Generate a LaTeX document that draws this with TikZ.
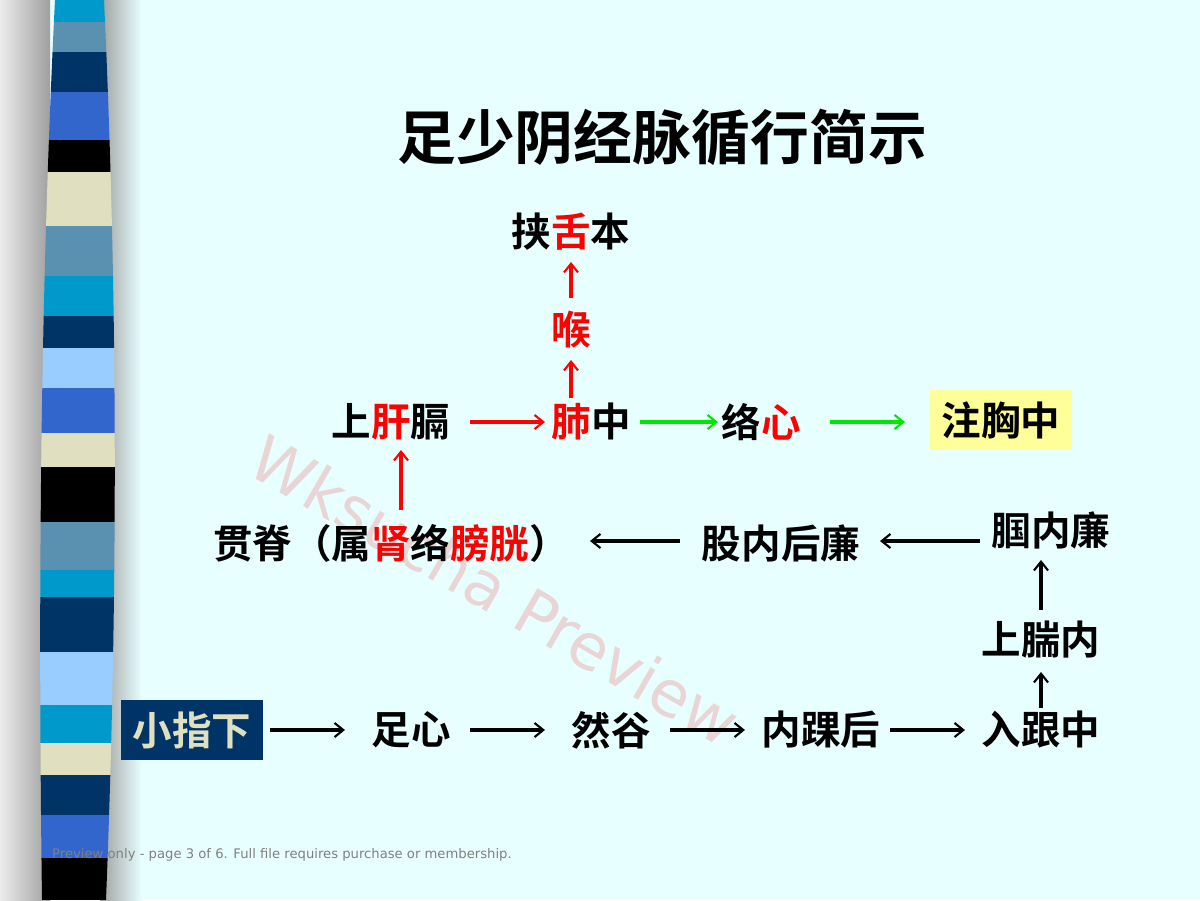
\documentclass[tikz,border=0pt]{standalone}
\usepackage{fontspec}
\setmainfont{Noto Sans CJK SC}[BoldFont={Noto Sans CJK SC Bold}]
\newfontfamily\wmfont{DejaVu Sans}
\usetikzlibrary{arrows.meta}
\definecolor{bg}{RGB}{232,255,255}
\definecolor{cA}{RGB}{0,153,204}
\definecolor{cB}{RGB}{90,144,176}
\definecolor{cC}{RGB}{0,51,102}
\definecolor{cD}{RGB}{51,102,204}
\definecolor{cE}{RGB}{224,224,192}
\definecolor{cF}{RGB}{153,204,255}
\definecolor{rd}{RGB}{255,0,0}
\definecolor{gr}{RGB}{0,230,0}
\definecolor{wmc}{RGB}{235,150,150}
\definecolor{yl}{RGB}{255,255,153}
\begin{document}
\begin{tikzpicture}[x=0.02cm,y=-0.02cm,
  lbl/.style={font=\fontsize{22.5}{22.5}\selectfont\bfseries,inner sep=1pt},
  arr/.style={line width=2.4pt,-{Straight Barb[length=5pt,width=8pt,line width=1.2pt]}},
  rarr/.style={arr,draw=rd,line width=2.8pt},
  garr/.style={arr,draw=gr},
  barr/.style={arr,draw=black}]
\useasboundingbox (0,0) rectangle (1200,900);
\fill[bg] (0,0) rectangle (1200,900);
\shade[left color=gray!15,right color=gray!75] (0,0) rectangle (50,900);
\shade[left color=gray!75,right color=bg] (100,0) rectangle (142,900);
\begin{scope}
\clip (55,0) .. controls (40,300) and (38,600) .. (42,900) -- (106,900) .. controls (118,600) and (118,300) .. (104,0) -- cycle;
\foreach \a/\b/\c in {0/22/cA,22/52/cB,52/92/cC,92/140/cD,140/172/black,172/226/cE,226/276/cB,276/316/cA,316/348/cC,348/388/cF,388/433/cD,433/467/cE,467/522/black,522/570/cB,570/597/cA,597/652/cC,652/705/cF,705/743/cA,743/775/cE,775/815/cC,815/858/cD,858/900/black}
  \fill[\c] (30,\a) rectangle (130,\b);
\end{scope}
\node[font=\wmfont\fontsize{36}{36}\selectfont,text=wmc,opacity=0.4,rotate=-30] (wmk) at (495,590) {Wksucha Preview};
\node[font=\fontsize{33.5}{33.5}\selectfont\bfseries] (title) at (662,137) {足少阴经脉循行简示};
\node[lbl] (she) at (571,232) {挟\textcolor{rd}{舌}本};
\node[lbl,text=rd] (hou) at (571,330) {喉};
\node[lbl] (gan) at (391,422) {上\textcolor{rd}{肝}膈};
\node[lbl] (fei) at (591,422) {\textcolor{rd}{肺}中};
\node[lbl] (xin) at (761,422) {络\textcolor{rd}{心}};
\node[lbl,fill=yl,minimum width=2.86cm,minimum height=1.2cm] (xiong) at (1001,420) {注胸中};
\node[lbl] (ji) at (391,543) {贯脊（属\textcolor{rd}{肾}络\textcolor{rd}{膀胱}）};
\node[lbl] (gu) at (781,543) {股内后廉};
\node[lbl] (guo) at (1051,530) {腘内廉};
\node[lbl] (shuan) at (1041,640) {上腨内};
\node[lbl,fill=cC,text=cE,minimum width=2.86cm,minimum height=1.2cm] (xzx) at (192,730) {小指下};
\node[lbl] (zx) at (411,730) {足心};
\node[lbl] (rg) at (611,730) {然谷};
\node[lbl] (nh) at (821,730) {内踝后};
\node[lbl] (rgz) at (1041,730) {入跟中};
\draw[rarr] (470,422) -- (545,422);
\draw[garr] (640,422) -- (718,422);
\draw[garr] (830,422) -- (905,422);
\draw[rarr] (571,298) -- (571,262);
\draw[rarr] (571,398) -- (571,360);
\draw[rarr] (401,510) -- (401,450);
\draw[barr] (680,541) -- (590,541);
\draw[barr] (980,541) -- (880,541);
\draw[barr] (1041,610) -- (1041,560);
\draw[barr] (1041,708) -- (1041,672);
\draw[barr] (270,730) -- (345,730);
\draw[barr] (470,730) -- (545,730);
\draw[barr] (670,730) -- (745,730);
\draw[barr] (890,730) -- (965,730);
\node[anchor=west,font=\wmfont\fontsize{7.5}{7.5}\selectfont,text=gray] (foot) at (46,855) {Preview only - page 3 of 6. Full file requires purchase or membership.};
\end{tikzpicture}
\end{document}
